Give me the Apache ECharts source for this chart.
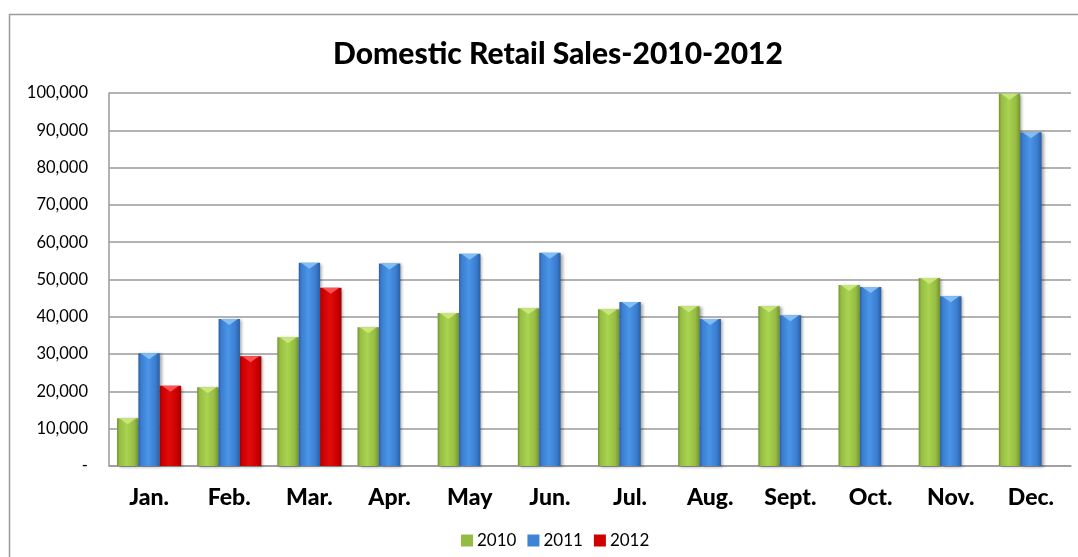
<!DOCTYPE html>
<html>
<head>
<meta charset="utf-8">
<script src="https://cdn.jsdelivr.net/npm/echarts@6/dist/echarts.min.js"></script>
<style>html,body{margin:0;padding:0;background:#fff}#c{width:1078px;height:557px}</style>
</head>
<body>
<div id="c"></div>
<script>
var months = ['Jan.', 'Feb.', 'Mar.', 'Apr.', 'May', 'Jun.', 'Jul.', 'Aug.', 'Sept.', 'Oct.', 'Nov.', 'Dec.'];
var sales2010 = [12800, 21100, 34500, 37200, 41000, 42300, 42000, 42800, 42800, 48500, 50400, 99800];
var sales2011 = [30200, 39400, 54500, 54300, 56900, 57200, 44000, 39400, 40400, 48000, 45500, 89500];
var sales2012 = [21500, 29400, 47800, null, null, null, null, null, null, null, null, null];
var seriesNames = ['2010', '2011', '2012'];
var yTicks = [0, 10000, 20000, 30000, 40000, 50000, 60000, 70000, 80000, 90000, 100000];

var FONT = 'Lato';
function grad(dark, mid, light) {
  return new echarts.graphic.LinearGradient(0, 0, 1, 0, [
    {offset: 0, color: dark},
    {offset: 0.12, color: mid},
    {offset: 0.45, color: light},
    {offset: 0.8, color: mid},
    {offset: 1, color: dark}
  ]);
}
var styles = [
  {bar: grad('#739232', '#96bd42', '#a9d350'), tip: '#cce87e', legend: '#94bb44'},
  {bar: grad('#2b5ea0', '#3a7dd0', '#4b95e6'), tip: '#88c2f6', legend: '#3e84d6'},
  {bar: grad('#a00000', '#cc0000', '#e00c0c'), tip: '#ff5a5a', legend: '#d00000'}
];
var datas = [sales2010, sales2011, sales2012];

var series = [];
datas.forEach(function (d, i) {
  series.push({
    name: seriesNames[i],
    type: 'bar',
    data: d,
    barGap: '0%',
    barCategoryGap: '20%',
    itemStyle: {
      color: styles[i].bar,
      shadowBlur: 3,
      shadowOffsetX: 2,
      shadowOffsetY: 1,
      shadowColor: 'rgba(0,0,0,0.35)'
    },
    z: 2
  });
});
datas.forEach(function (d, i) {
  series.push({
    name: seriesNames[i],
    type: 'pictorialBar',
    data: d,
    barGap: '0%',
    barCategoryGap: '20%',
    symbol: 'path://M0,0 L10,0 L5,4 Z',
    symbolSize: [17, 6],
    symbolPosition: 'end',
    symbolOffset: [0, 0],
    itemStyle: {color: styles[i].tip, opacity: 0.9},
    silent: true,
    legendHoverLink: false,
    z: 3
  });
});

var chart = echarts.init(document.getElementById('c'), null, {renderer: 'canvas'});
chart.setOption({
  animation: false,
  backgroundColor: '#fff',
  title: {
    text: 'Domestic Retail Sales-2010-2012',
    left: 553,
    top: 49,
    textAlign: 'center',
    textVerticalAlign: 'middle',
    textStyle: {fontFamily: FONT, fontWeight: 900, fontSize: 30, color: '#000'}
  },
  legend: {
    data: seriesNames.map(function (n, i) {
      return {name: n, itemStyle: {color: styles[i].legend}};
    }),
    left: 456,
    top: 527,
    itemWidth: 12,
    itemHeight: 12,
    itemGap: 11,
    icon: 'rect',
    textStyle: {fontFamily: FONT, fontSize: 17, color: '#000', padding: [0, 0, 0, -1]}
  },
  grid: {left: 109, right: 7, top: 93, bottom: 91, containLabel: false},
  xAxis: {
    type: 'category',
    data: months,
    axisLine: {show: true, lineStyle: {color: '#9a9a9a', width: 1.5}},
    axisTick: {show: false},
    axisLabel: {fontFamily: FONT, fontWeight: 900, fontSize: 23, color: '#000', margin: 20}
  },
  yAxis: {
    type: 'value',
    min: yTicks[0],
    max: yTicks[yTicks.length - 1],
    interval: yTicks[1] - yTicks[0],
    axisLine: {show: true, lineStyle: {color: '#9a9a9a', width: 1.5}},
    axisTick: {show: false},
    splitLine: {show: true, lineStyle: {color: '#9a9a9a', width: 1.5}},
    axisLabel: {
      fontFamily: FONT, fontSize: 16.5, color: '#000', margin: 21,
      formatter: function (v) { return v === 0 ? '-' : v.toLocaleString('en-US'); }
    }
  },
  graphic: [{
    type: 'rect',
    shape: {x: 9.5, y: 14.5, width: 1200, height: 700},
    style: {fill: null, stroke: '#9a9a9a', lineWidth: 1.5},
    silent: true,
    z: -1
  }],
  series: series
});
</script>
</body>
</html>
